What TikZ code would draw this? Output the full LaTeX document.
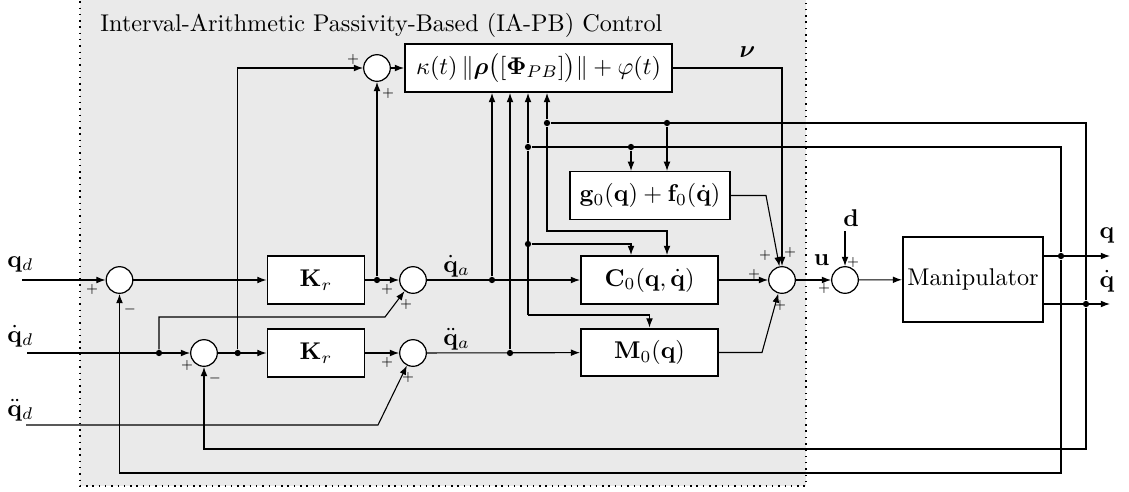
\documentclass[tikz,border=0pt]{standalone}
\usepackage{amsmath,amssymb,bm}
\usetikzlibrary{arrows.meta}
\definecolor{bgGray}{RGB}{234,234,234}

\begin{document}
\begin{tikzpicture}[x=0.4132pt,y=-0.4132pt,
  sig/.style={-{Latex[length=3.8pt,width=2.8pt]},line width=0.45pt},
  wire/.style={line width=0.45pt},
  blk/.style={draw,line width=0.8pt,fill=white,minimum height=19.8pt,inner sep=1pt},
  sumj/.style={draw,circle,fill=white,minimum size=11pt,inner sep=0pt,line width=0.5pt},
  jdot/.style={circle,fill,inner sep=0pt,minimum size=2.6pt},
  sgn/.style={font=\tiny,inner sep=0pt},
  lbl/.style={inner sep=0pt}]

\useasboundingbox (0,0) rectangle (1129,491);

% controller area
\fill[bgGray] (80,-5) rectangle (806,486);
\draw[dotted,line width=0.6pt] (80,-5) rectangle (806,486);
\node[lbl,anchor=base west] (title) at (100,31.5) {Interval-Arithmetic Passivity-Based (IA-PB) Control};

% blocks
\node[blk,minimum width=110.3pt] (phi) at (538.5,68) {$\kappa(t)\,\|\bm{\rho}\big([\mathbf{\Phi}_{PB}]\big)\|+\varphi(t)$};
\node[blk,minimum width=40.1pt] (K1) at (316,280) {$\mathbf{K}_r$};
\node[blk,minimum width=40.1pt] (K2) at (316,353) {$\mathbf{K}_r$};
\node[blk,line width=0.5pt,minimum width=66.1pt] (G) at (650,195.5) {$\mathbf{g}_0(\mathbf{q})+\mathbf{f}_0(\dot{\mathbf{q}})$};
\node[blk,minimum width=56.6pt] (C) at (649.5,280) {$\mathbf{C}_0(\mathbf{q},\dot{\mathbf{q}})$};
\node[blk,minimum width=56.6pt] (M) at (649.5,352.5) {$\mathbf{M}_0(\mathbf{q})$};
\node[blk,minimum width=57.9pt,minimum height=35.1pt,inner sep=1.5pt] (P) at (973,279.5) {Manipulator};

% summing junctions
\node[sumj] (sT) at (377,68) {};
\node[sumj] (s1) at (119.5,280) {};
\node[sumj] (s2) at (204,353) {};
\node[sumj] (sA) at (413,280) {};
\node[sumj] (sB) at (413,353) {};
\node[sumj] (sR) at (782,280) {};
\node[sumj] (sU) at (845,280) {};

% branch points
\node[jdot] (d1) at (377,280) {};
\node[jdot] (d2) at (159,353) {};
\node[jdot] (d3) at (237.7,353) {};
\node[jdot] (d4) at (492,280) {};
\node[jdot] (d5) at (510,353) {};
\node[jdot] (dq) at (1061,256) {};
\node[jdot] (dqd) at (1086,304) {};
\node[jdot] (jq) at (528,147) {};
\node[jdot] (jqd) at (547,123) {};
\node[jdot] (jq2) at (631,147) {};
\node[jdot] (jqd2) at (667,123) {};
\node[jdot] (jq3) at (528,244) {};

% free ends and corners
\coordinate (inA) at (22,280);
\coordinate (inB) at (27,353);
\coordinate (inC) at (26,425);
\coordinate (b2) at (385,317);
\coordinate (c1) at (378,425);
\coordinate (gm) at (766,195.5);
\coordinate (mm) at (762,352.5);
\coordinate (dIn) at (845,231);
\coordinate (qy) at (0,256);
\coordinate (qdy) at (0,304);
\coordinate (qOut) at (1110,256);
\coordinate (qdOut) at (1110,304);
\coordinate (cq2) at (667,231);
\coordinate (cm) at (528,315);
\coordinate (fb1) at (119.5,473);
\coordinate (fb2) at (204,449);

% reference inputs
\node[lbl,anchor=base west] at (7,267) {$\mathbf{q}_d$};
\node[lbl,anchor=base west] at (7,342) {$\dot{\mathbf{q}}_d$};
\node[lbl,anchor=base west] at (7,416) {$\ddot{\mathbf{q}}_d$};

\draw[sig] (inA) -- (s1);
\draw[sig] (s1) -- (K1);
\draw[sig] (K1) -- (sA);
\draw[sig] (d1) -- (sT);
\draw[sig] (sT) -- (phi);
\draw[sig] (inB) -- (s2);
\draw[sig] (d2) |- (b2) -- (sA);
\draw[sig] (s2) -- (K2);
\draw[sig] (d3) |- (sT);
\draw[sig] (K2) -- (sB);
\draw[sig] (inC) -- (c1) -- (sB);

% auxiliary signals
\draw[sig] (sA) -- (C);
\draw[sig] (sB) -- (M);
\draw[sig] (d4) -- (d4 |- phi.south);
\draw[sig] (d5) -- (d5 |- phi.south);
\node[lbl,anchor=base west] at (443,272) {$\dot{\mathbf{q}}_a$};
\node[lbl,anchor=base west] at (443,345) {$\ddot{\mathbf{q}}_a$};

% measured states into the model blocks
\draw[wire] (dq) |- (jq);
\draw[wire] (dqd) |- (jqd);
\draw[sig] (jq) -- (jq |- phi.south);
\draw[sig] (jqd) -- (jqd |- phi.south);
\draw[sig] (jq2) -- (jq2 |- G.north);
\draw[sig] (jqd2) -- (jqd2 |- G.north);
\draw[sig] (jqd) |- (cq2) -- (cq2 |- C.north);
\draw[wire] (jq) -- (cm);
\draw[sig] (jq3) -| (jq2 |- C.north);
\draw[sig] (cm) -| (M.north);

% torque summation
\draw[sig] (C) -- (sR);
\draw[sig] (M.east) -- (mm) -- (sR);
\draw[sig] (G.east) -- (gm) -- (sR);
\draw[sig] (phi.east) -| (sR);
\node[lbl] at (747.5,52.5) {$\bm{\nu}$};
\draw[sig] (sR) -- (sU);
\node[lbl] at (821.5,260) {$\mathbf{u}$};
\node[lbl] at (851,218.5) {$\mathbf{d}$};
\draw[sig] (dIn) -- (sU);
\draw[sig] (sU) -- (P);

% plant outputs and feedback
\draw[sig] (P.east |- qy) -- (qOut);
\draw[sig] (P.east |- qdy) -- (qdOut);
\node[lbl,anchor=base] at (1107,238) {$\mathbf{q}$};
\node[lbl,anchor=base] at (1107,287) {$\dot{\mathbf{q}}$};
\draw[sig] (dq) |- (fb1) -- (s1);
\draw[sig] (dqd) |- (fb2) -- (s2);

% signs
\node[sgn] at (353,59) {$+$};
\node[sgn] at (388,93) {$+$};
\node[sgn] at (92,289) {$+$};
\node[sgn] at (130,309) {$-$};
\node[sgn] at (187,365) {$+$};
\node[sgn] at (215,378) {$-$};
\node[sgn] at (387,289) {$+$};
\node[sgn] at (406,304) {$+$};
\node[sgn] at (387,362) {$+$};
\node[sgn] at (408,377) {$+$};
\node[sgn] at (754,274) {$+$};
\node[sgn] at (765,255) {$+$};
\node[sgn] at (790,252) {$+$};
\node[sgn] at (780,305) {$+$};
\node[sgn] at (853,262) {$+$};
\node[sgn] at (824,288) {$+$};
\end{tikzpicture}
\end{document}
